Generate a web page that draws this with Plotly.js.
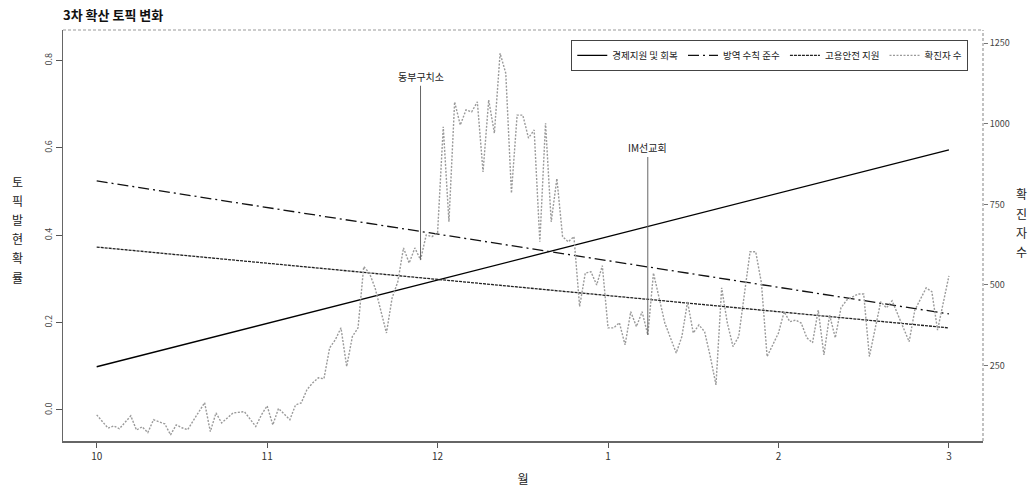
<!DOCTYPE html>
<html>
<head>
<meta charset="utf-8">
<script src="https://cdn.plot.ly/plotly-3.0.1.min.js"></script>
<style>
html,body{margin:0;padding:0;background:#fff;}
#chart{width:1033px;height:489px;}
</style>
</head>
<body>
<div id="chart"></div>
<script>
// ---- data ----
const monthTickDays = [0, 30, 60, 90, 120, 150];
const monthLabels = ['10', '11', '12', '1', '2', '3'];

const trendDays = [0, 150];
const econSupport = [0.099, 0.5955];      // 경제지원 및 회복
const quarantineRules = [0.5245, 0.220];  // 방역 수칙 준수
const employmentSupport = [0.373, 0.188]; // 고용안전 지원

const caseDays = [0,2,3,4,6,7,8,9,10,11,12,13,14,15,16,19,20,21,22,24,26,28,29,30,31,32,34,35,36,37,38,39,40,41,42,43,44,45,46,47,48,49,50,51,52,53,54,55,56,57,58,59,60,61,62,63,64,65,66,67,68,69,70,71,72,73,74,75,76,77,78,79,80,81,82,83,84,85,86,87,88,89,90,91,92,93,94,95,96,97,98,99,100,102,103,104,105,106,107,108,109,110,111,112,113,115,116,117,118,120,121,122,123,124,125,126,127,128,129,130,131,132,134,135,136,138,139,140,143,144,146,147,148,150];
const caseCounts = [97,56,63,54,94,50,60,42,82,76,69,35,66,57,51,135,45,103,72,103,107,61,97,125,66,117,82,128,134,175,196,212,209,305,330,367,247,340,367,557,537,491,423,351,460,510,615,568,615,578,655,650,662,991,696,1068,996,1043,1037,1068,851,1074,971,1219,1157,785,1027,1027,956,981,634,1002,696,830,650,634,650,433,537,541,500,560,367,367,383,314,417,371,417,345,537,460,382,289,340,448,351,376,355,278,190,491,382,309,340,603,603,506,278,351,417,386,391,382,336,321,422,283,407,336,429,453,472,472,278,448,429,451,324,422,491,479,360,528];

const leftTicks = [0, 0.2, 0.4, 0.6, 0.8];
const leftTickText = ['0.0', '0.2', '0.4', '0.6', '0.8'];
const rightTicks = [250, 500, 750, 1000, 1250];

const leftTitle = '토픽발현확률';
const rightTitle = '확진자수';

const events = [
  {label: '동부구치소', day: 57, textLevel: 1146},
  {label: 'IM선교회', day: 97, textLevel: 925}
];

// ---- chart ----
const FONT = '"Noto Sans CJK KR", "Noto Sans", sans-serif';
const PLOT_TOP = 30, PLOT_H = 411;
function caseAt(day){ return caseCounts[caseDays.indexOf(day)]; }
function pxToPaperY(px){ return (PLOT_TOP + PLOT_H - px) / PLOT_H; }

const traces = [
  {x: trendDays, y: econSupport, name: '경제지원 및 회복', mode: 'lines', yaxis: 'y',
   line: {color: '#000', width: 1.3}},
  {x: trendDays, y: quarantineRules, name: '방역 수칙 준수', mode: 'lines', yaxis: 'y',
   line: {color: '#111', width: 1.3, dash: '11px,4px,2px,4px'}},
  {x: trendDays, y: employmentSupport, name: '고용안전 지원', mode: 'lines', yaxis: 'y',
   line: {color: '#222', width: 1.3, dash: '3px,1px'}},
  {x: caseDays, y: caseCounts, name: '확진자 수', mode: 'lines', yaxis: 'y2',
   line: {color: '#9a9a9a', width: 1.4, dash: '2px,1.5px'}}
];

const annotations = events.map(e => ({
  x: e.day, y: caseAt(e.day), xref: 'x', yref: 'y2',
  ax: e.day, ay: e.textLevel, axref: 'x', ayref: 'y2',
  text: e.label, showarrow: true, arrowhead: 0, arrowwidth: 1, arrowcolor: '#666',
  standoff: 0, font: {family: FONT, size: 10, color: '#222'}
}));
// vertical (stacked) axis titles, one glyph per row
function stacked(text, xPaper, firstPx, stepPx){
  Array.from(text).forEach((ch, i) => {
    annotations.push({
      text: ch, xref: 'paper', yref: 'paper', x: xPaper, y: pxToPaperY(firstPx + i * stepPx),
      showarrow: false, xanchor: 'center', yanchor: 'middle',
      font: {family: FONT, size: 12, color: '#222'}
    });
  });
}
stacked(leftTitle, -0.05, 181, 19.2);
stacked(rightTitle, 1.042, 194, 19.2);

const layout = {
  width: 1033, height: 489,
  margin: {l: 63, r: 50, t: 30, b: 48},
  paper_bgcolor: '#fff', plot_bgcolor: '#fff',
  font: {family: FONT, color: '#333'},
  title: {text: '<b>3차 확산 토픽 변화</b>', xref: 'paper', x: 0, xanchor: 'left',
          yref: 'container', y: 0.969, yanchor: 'middle',
          font: {family: FONT, size: 13, color: '#111'}},
  xaxis: {range: [-5.93, 156], tickvals: monthTickDays, ticktext: monthLabels,
          ticks: 'outside', ticklen: 5, tickcolor: '#555', showline: true, linecolor: '#666', linewidth: 1.5,
          showgrid: false, zeroline: false, tickfont: {size: 10, color: '#333'},
          title: {text: '월', font: {size: 12, color: '#222'}, standoff: 14}},
  yaxis: {range: [-0.071, 0.870], tickvals: leftTicks, ticktext: leftTickText, tickangle: -90,
          ticks: 'outside', ticklen: 6, tickcolor: '#555', showline: true, linecolor: '#666', linewidth: 1.5,
          showgrid: false, zeroline: false, tickfont: {size: 9, color: '#444'}},
  yaxis2: {range: [16, 1291], overlaying: 'y', side: 'right', tickvals: rightTicks,
           ticks: 'outside', ticklen: 4, tickcolor: '#777', showline: false,
           showgrid: false, zeroline: false, tickfont: {size: 9, color: '#444'}},
  showlegend: true,
  legend: {orientation: 'h', x: 0.984, xanchor: 'right', y: 0.976, yanchor: 'top',
           bordercolor: '#444', borderwidth: 1, bgcolor: '#fff', itemwidth: 30,
           font: {family: FONT, size: 9.5, color: '#222'}},
  shapes: [
    {type: 'line', xref: 'paper', yref: 'paper', x0: 0, x1: 1, y0: 1, y1: 1,
     line: {color: '#999', width: 1.2, dash: '3px,2px'}},
    {type: 'line', xref: 'paper', yref: 'paper', x0: 1, x1: 1, y0: 0, y1: 1,
     line: {color: '#999', width: 1.2, dash: '3px,2px'}}
  ],
  annotations: annotations
};

Plotly.newPlot('chart', traces, layout, {displayModeBar: false, staticPlot: true});
</script>
</body>
</html>
